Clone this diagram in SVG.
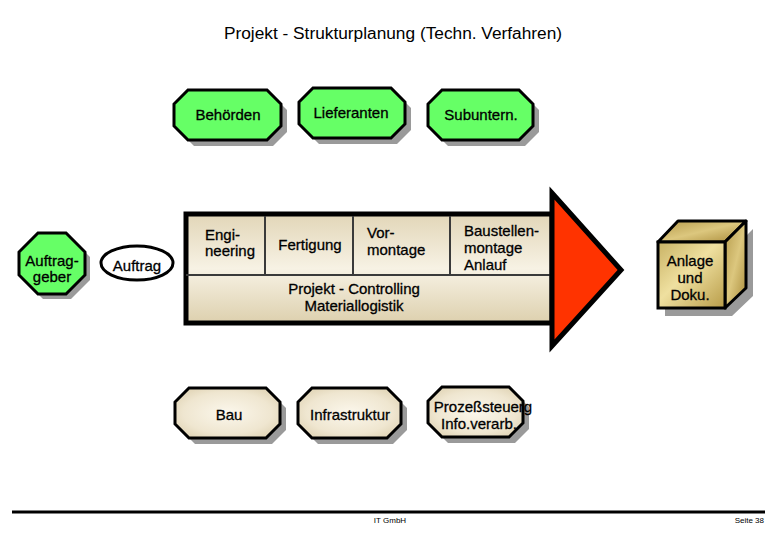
<svg xmlns="http://www.w3.org/2000/svg" width="780" height="540" viewBox="0 0 780 540">
<defs>
<style>
.lbl{font-family:"Liberation Sans",Arial,sans-serif;font-size:15px;fill:#000;stroke:#000;stroke-width:0.3}
.title{font-family:"Liberation Sans",Arial,sans-serif;font-size:17.3px;fill:#000}
.foot{font-family:"Liberation Sans",Arial,sans-serif;font-size:8px;fill:#000}
.green{fill:#66ff66;stroke:#000;stroke-width:3;stroke-linejoin:miter}
.beige{fill:url(#beigeG);stroke:#000;stroke-width:3}
.shadow{fill:#9a9a9a}
.div{stroke:#3a3a3a;stroke-width:2;fill:none}
</style>
<radialGradient id="beigeG" cx="0.5" cy="0.5" r="0.7">
<stop offset="0" stop-color="#fbf7ec"/>
<stop offset="0.6" stop-color="#efe6d0"/>
<stop offset="1" stop-color="#d9cba8"/>
</radialGradient>
<linearGradient id="bandG" x1="0" y1="0" x2="0" y2="1">
<stop offset="0" stop-color="#e2d6b8"/>
<stop offset="0.5" stop-color="#f7f2e4"/>
<stop offset="1" stop-color="#ddd0ae"/>
</linearGradient>
<linearGradient id="goldG" x1="0" y1="0" x2="1" y2="1">
<stop offset="0" stop-color="#c9b264"/>
<stop offset="0.45" stop-color="#efe0a0"/>
<stop offset="1" stop-color="#b89c48"/>
</linearGradient>
<linearGradient id="goldSide" x1="0" y1="0" x2="1" y2="1">
<stop offset="0" stop-color="#b59a4a"/>
<stop offset="0.5" stop-color="#dcc77e"/>
<stop offset="1" stop-color="#a88a38"/>
</linearGradient>
</defs>
<rect width="780" height="540" fill="#fff"/>
<text class="title" x="393" y="39" text-anchor="middle">Projekt - Strukturplanung (Techn. Verfahren)</text>

<g id="behoerden">
<polygon class="shadow" points="194,96 273,96 287,110 287,132 273,146 194,146 180,132 180,110"/>
<polygon class="green" points="188,90 267,90 281,104 281,126 267,140 188,140 174,126 174,104"/>
<text class="lbl" x="228" y="120" text-anchor="middle">Behörden</text>
</g>
<g id="lieferanten">
<polygon class="shadow" points="319,94 397,94 411,108 411,130 397,144 319,144 305,130 305,108"/>
<polygon class="green" points="313,88 391,88 405,102 405,124 391,138 313,138 299,124 299,102"/>
<text class="lbl" x="351" y="118" text-anchor="middle">Lieferanten</text>
</g>
<g id="subuntern">
<polygon class="shadow" points="448,96 525,96 539,110 539,132 525,146 448,146 434,132 434,110"/>
<polygon class="green" points="442,90 519,90 533,104 533,126 519,140 442,140 428,126 428,104"/>
<text class="lbl" x="481" y="120" text-anchor="middle">Subuntern.</text>
</g>

<g id="auftraggeber">
<polygon class="shadow" points="43,238 71,238 90,257 90,280 71,299 43,299 24,280 24,257"/>
<polygon class="green" points="38,233 66,233 85,252 85,275 66,294 38,294 19,275 19,252"/>
<text class="lbl" x="52" y="266" text-anchor="middle">Auftrag-</text>
<text class="lbl" x="52" y="282" text-anchor="middle">geber</text>
</g>

<g id="auftrag">
<ellipse cx="137" cy="263" rx="36" ry="17" fill="#fff" stroke="#000" stroke-width="3"/>
<text class="lbl" x="137" y="271" text-anchor="middle">Auftrag</text>
</g>

<g id="band">
<rect x="186" y="214" width="366" height="109" fill="url(#bandG)" stroke="#000" stroke-width="5"/>
<line class="div" x1="186" y1="275" x2="552" y2="275"/>
<line class="div" x1="265" y1="216" x2="265" y2="275"/>
<line class="div" x1="353" y1="216" x2="353" y2="275"/>
<line class="div" x1="450" y1="216" x2="450" y2="275"/>
</g>
<g id="engineering">
<text class="lbl" x="205" y="240">Engi-</text>
<text class="lbl" x="205" y="256">neering</text>
</g>
<g id="fertigung">
<text class="lbl" x="310" y="250" text-anchor="middle">Fertigung</text>
</g>
<g id="vormontage">
<text class="lbl" x="367" y="238">Vor-</text>
<text class="lbl" x="367" y="255">montage</text>
</g>
<g id="baustellenmontage">
<text class="lbl" x="464" y="236">Baustellen-</text>
<text class="lbl" x="464" y="253">montage</text>
<text class="lbl" x="464" y="270">Anlauf</text>
</g>
<g id="controlling">
<text class="lbl" x="354" y="294" text-anchor="middle">Projekt - Controlling</text>
<text class="lbl" x="354" y="311" text-anchor="middle">Materiallogistik</text>
</g>

<g id="arrowhead">
<polygon points="552,193 621,270 552,346" fill="#ff3300" stroke="#000" stroke-width="5" stroke-linejoin="miter"/>
</g>

<g id="anlage">
<polygon class="shadow" points="665,250 732,250 753,229 753,296 732,316 665,316"/>
<polygon points="658,242 678,221 746,221 725,242" fill="url(#goldSide)" stroke="#000" stroke-width="3" stroke-linejoin="round"/>
<polygon points="725,242 746,221 746,288 725,308" fill="url(#goldSide)" stroke="#000" stroke-width="3" stroke-linejoin="round"/>
<rect x="658" y="242" width="67" height="66" fill="url(#goldG)" stroke="#000" stroke-width="3"/>
<text class="lbl" x="690" y="266" text-anchor="middle">Anlage</text>
<text class="lbl" x="690" y="283" text-anchor="middle">und</text>
<text class="lbl" x="690" y="300" text-anchor="middle">Doku.</text>
</g>

<g id="bau">
<polygon class="shadow" points="195,394 272,394 286,408 286,430 272,444 195,444 181,430 181,408"/>
<polygon class="beige" points="189,388 266,388 280,402 280,424 266,438 189,438 175,424 175,402"/>
<text class="lbl" x="229" y="420" text-anchor="middle">Bau</text>
</g>
<g id="infrastruktur">
<polygon class="shadow" points="318,394 393,394 407,408 407,430 393,444 318,444 304,430 304,408"/>
<polygon class="beige" points="312,388 387,388 401,402 401,424 387,438 312,438 298,424 298,402"/>
<text class="lbl" x="350" y="420" text-anchor="middle">Infrastruktur</text>
</g>
<g id="prozess">
<polygon class="shadow" points="448,393 515,393 529,407 529,429 515,443 448,443 434,429 434,407"/>
<polygon class="beige" points="442,387 509,387 523,401 523,423 509,437 442,437 428,423 428,401"/>
<text class="lbl" x="483" y="412" text-anchor="middle">Prozeßsteuerg</text>
<text class="lbl" x="479" y="429" text-anchor="middle">Info.verarb.</text>
</g>

<g id="footer">
<line x1="12" y1="512" x2="765" y2="512" stroke="#000" stroke-width="3"/>
<text class="foot" x="390" y="523" text-anchor="middle">IT GmbH</text>
<text class="foot" x="764" y="523" text-anchor="end">Seite 38</text>
</g>
</svg>
